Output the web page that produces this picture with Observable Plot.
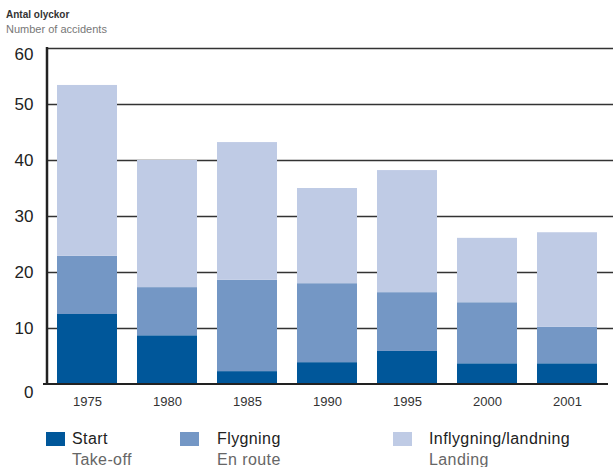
<!DOCTYPE html>
<html>
<head>
<meta charset="utf-8">
<script src="https://cdn.jsdelivr.net/npm/d3@7"></script>
<script src="https://cdn.jsdelivr.net/npm/@observablehq/plot@0.6"></script>
<style>
  html, body { margin: 0; padding: 0; background: #fff; }
  body { width: 613px; height: 467px; overflow: hidden; font-family: "Liberation Sans", Arial, sans-serif; }
  #head { position: relative; height: 40px; }
  #t1 { position: absolute; left: 6px; top: 9px; font-size: 10px; font-weight: bold; color: #333; line-height: 12px; }
  #t2 { position: absolute; left: 6px; top: 23px; font-size: 11px; color: #777; line-height: 13px; }
  #chart svg { display: block; }
  #legend { position: relative; height: 47px; overflow: hidden; }
  .sw { position: absolute; top: 12px; width: 19px; height: 14px; }
  .lt { position: absolute; top: 8px; font-size: 16px; letter-spacing: 0.4px; line-height: 21px; color: #222; }
  .lt span { color: #666; display: block; }
</style>
</head>
<body>
<div id="head"><div id="t1">Antal olyckor</div><div id="t2">Number of accidents</div></div>
<div id="chart"></div>
<div id="legend"></div>
<script>
const years = ["1975", "1980", "1985", "1990", "1995", "2000", "2001"];
const series = ["Start", "Flygning", "Inflygning/landning"];
const seriesEn = ["Take-off", "En route", "Landing"];
const colors = ["#00579a", "#7497c5", "#bfcbe5"];
const start = [12.5, 8.7, 2.3, 3.9, 5.9, 3.7, 3.7];
const flygning = [10.4, 8.6, 16.3, 14.1, 10.5, 10.9, 6.5];
const landning = [30.5, 22.7, 24.6, 17.0, 21.8, 11.5, 16.9];
const yTicks = [0, 10, 20, 30, 40, 50, 60];

const values = [start, flygning, landning];
const rows = [];
series.forEach((s, si) => years.forEach((y, i) => rows.push({year: y, series: s, value: values[si][i]})));

const W = 613, H = 380, ML = 47, MT = 8, MB = 36;

const plot = Plot.plot({
  width: W,
  height: H,
  marginLeft: ML,
  marginRight: 0,
  marginTop: MT,
  marginBottom: MB,
  style: {fontFamily: "'Liberation Sans', Arial, sans-serif", background: "#fff"},
  x: {domain: years, range: [ML, 607], paddingInner: 0.25, paddingOuter: 0.125, label: null, axis: null},
  y: {domain: [0, 60], label: null, axis: null},
  color: {domain: series, range: colors},
  marks: [
    Plot.ruleY(yTicks.filter(d => d > 0), {stroke: "#333", strokeWidth: 1.6}),
    Plot.barY(rows, {x: "year", y: "value", fill: "series", order: series}),
    Plot.axisX({tickSize: 0, tickPadding: 12, fontSize: 13, fill: "#333", label: null}),
    Plot.text(yTicks.filter(d => d > 0 && d < 60), {y: d => d, frameAnchor: "left", textAnchor: "end", dx: -14, fontSize: 17, fill: "#222"}),
    Plot.text([60], {y: d => d, frameAnchor: "left", textAnchor: "end", dx: -14, dy: 6, fontSize: 17, fill: "#222"}),
    Plot.text([0], {y: d => d, frameAnchor: "left", textAnchor: "end", dx: -14, dy: 8, fontSize: 17, fill: "#222"})
  ]
});

// axis lines positioned through the plot's own y scale
const ys = plot.scale("y");
const svg = d3.select(plot.tagName === "svg" ? plot : plot.querySelector("svg"));
svg.append("line")
  .attr("x1", ML).attr("x2", ML)
  .attr("y1", ys.apply(60) - 1).attr("y2", ys.apply(0) + 1)
  .attr("stroke", "#222").attr("stroke-width", 2.5);
svg.append("line")
  .attr("x1", ML - 4).attr("x2", 608)
  .attr("y1", ys.apply(0)).attr("y2", ys.apply(0))
  .attr("stroke", "#222").attr("stroke-width", 2.2);

document.getElementById("chart").appendChild(plot);

// legend
const lx = [[46, 72], [180, 217], [393, 429]];
const leg = document.getElementById("legend");
series.forEach((s, i) => {
  const sw = document.createElement("div");
  sw.className = "sw";
  sw.style.left = lx[i][0] + "px";
  sw.style.background = colors[i];
  leg.appendChild(sw);
  const t = document.createElement("div");
  t.className = "lt";
  t.style.left = lx[i][1] + "px";
  t.textContent = s;
  const sp = document.createElement("span");
  sp.textContent = seriesEn[i];
  t.appendChild(sp);
  leg.appendChild(t);
});
</script>
</body>
</html>
